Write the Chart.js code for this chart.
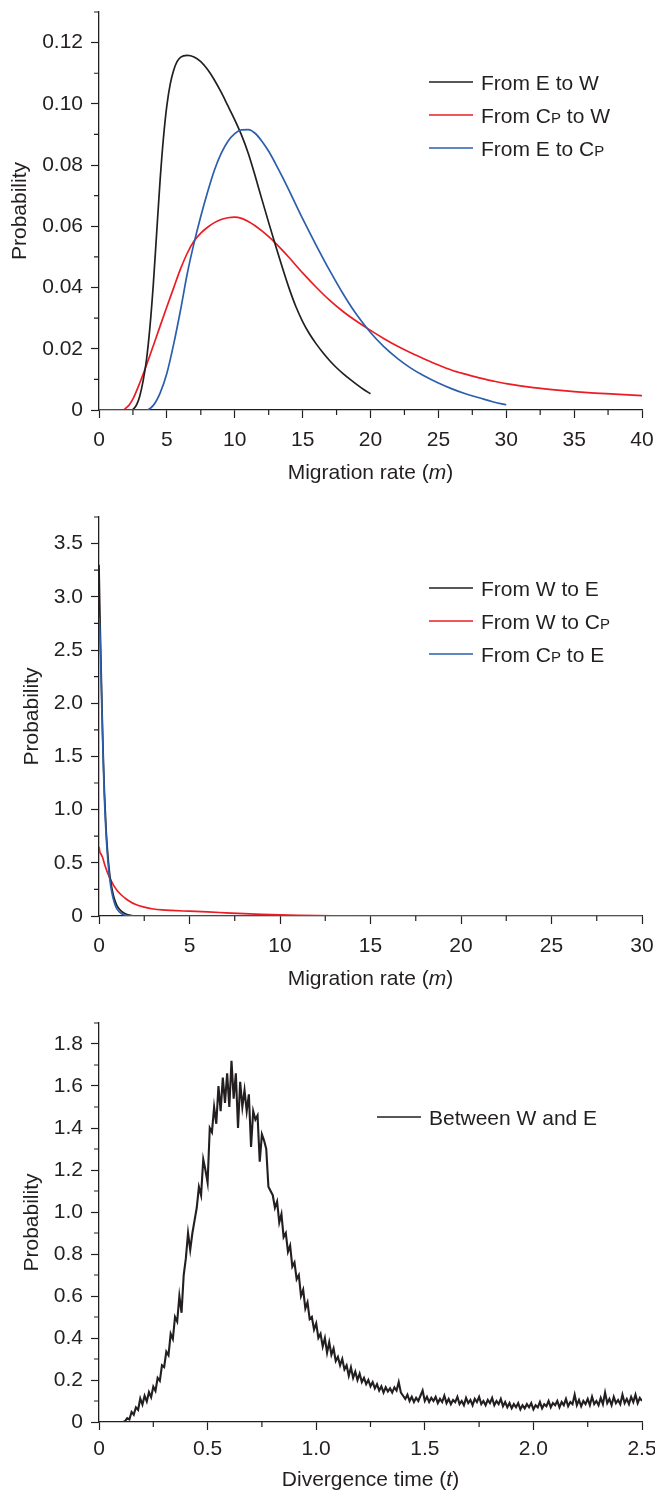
<!DOCTYPE html>
<html>
<head>
<meta charset="utf-8">
<script src="https://cdn.jsdelivr.net/npm/chart.js@4.4.1/dist/chart.umd.min.js"></script>
<style>
  html, body { margin: 0; padding: 0; background: #fff; overflow: hidden; }
  #wrap { position: relative; width: 655px; height: 1491px; }
  .panel { position: absolute; left: 0; width: 655px; }
  canvas { display: block; }
</style>
</head>
<body>
<div id="wrap">
  <div class="panel" style="top:0;height:485px"><canvas id="migA"></canvas></div>
  <div class="panel" style="top:485px;height:505px"><canvas id="migB"></canvas></div>
  <div class="panel" style="top:990px;height:501px"><canvas id="divT"></canvas></div>
</div>
<script>
// ---- panel 1: migration rate posteriors ----
const eToW_m = [0, 1, 2, 2.4, 2.6, 2.8, 3.0, 3.25, 3.5, 3.75, 4.0, 4.25, 4.5, 4.75, 5.0, 5.25, 5.5, 5.75, 6.0, 6.5, 7.0, 7.5, 8.0, 8.5, 9.0, 9.5, 10.0, 10.5, 11.0, 11.5, 12.0, 12.5, 13.0, 13.5, 14.0, 14.5, 15.0, 15.5, 16.0, 16.5, 17.0, 17.5, 18.0, 18.5, 19.0, 19.5, 20.0];
const eToW_p = [0, 0, 0, 0, 0.0006, 0.002, 0.0045, 0.0095, 0.0165, 0.027, 0.041, 0.058, 0.075, 0.089, 0.0995, 0.1065, 0.111, 0.1138, 0.1152, 0.1158, 0.1153, 0.1138, 0.1112, 0.1078, 0.1038, 0.0993, 0.0948, 0.0898, 0.0838, 0.0765, 0.0688, 0.0612, 0.0538, 0.0466, 0.0398, 0.0338, 0.0289, 0.0249, 0.0216, 0.0187, 0.0161, 0.0138, 0.0118, 0.01, 0.0083, 0.0067, 0.0053];

const cpToW_m = [0, 1, 1.8, 2.0, 2.25, 2.5, 3.0, 3.5, 4.0, 4.5, 5.0, 5.5, 6.0, 6.5, 7.0, 7.5, 8.0, 8.5, 9.0, 9.5, 10.0, 10.5, 11.0, 11.5, 12.0, 12.5, 13.0, 13.5, 14.0, 15.0, 16.0, 17.0, 18.0, 19.0, 20.0, 21.0, 22.0, 23.0, 24.0, 25.0, 26.0, 27.0, 28.0, 29.0, 30.0, 32.0, 34.0, 36.0, 38.0, 40.0];
const cpToW_p = [0, 0, 0, 0.0007, 0.0018, 0.0036, 0.0088, 0.0147, 0.021, 0.0274, 0.0337, 0.0399, 0.046, 0.0512, 0.0552, 0.0578, 0.0597, 0.0612, 0.0622, 0.0628, 0.063, 0.0626, 0.0616, 0.0602, 0.0585, 0.0566, 0.0545, 0.0522, 0.0498, 0.0448, 0.0401, 0.0358, 0.0321, 0.0289, 0.026, 0.0233, 0.0208, 0.0186, 0.0166, 0.0147, 0.013, 0.0117, 0.0105, 0.0095, 0.0086, 0.0073, 0.0064, 0.0057, 0.0052, 0.0047];

const eToCp_m = [0, 2, 3.5, 4.0, 4.5, 5.0, 5.5, 6.0, 6.5, 7.0, 7.5, 8.0, 8.5, 9.0, 9.5, 10.0, 10.5, 11.0, 11.5, 12.0, 12.5, 13.0, 13.5, 14.0, 14.5, 15.0, 16.0, 17.0, 18.0, 19.0, 20.0, 21.0, 22.0, 23.0, 24.0, 25.0, 26.0, 27.0, 28.0, 29.0, 30.0];
const eToCp_p = [0, 0, 0, 0.0015, 0.0055, 0.012, 0.0215, 0.0325, 0.0445, 0.0545, 0.0633, 0.0712, 0.0783, 0.0838, 0.0878, 0.0903, 0.0915, 0.0916, 0.0904, 0.0878, 0.0845, 0.0805, 0.0762, 0.0717, 0.0671, 0.0625, 0.0538, 0.0455, 0.0378, 0.031, 0.0253, 0.0206, 0.0168, 0.0136, 0.011, 0.0088, 0.0069, 0.0053, 0.004, 0.0027, 0.0017];

// ---- panel 2: reverse directions ----
const wToE_m = [0, 0.05, 0.1, 0.15, 0.2, 0.25, 0.3, 0.4, 0.5, 0.6, 0.7, 0.8, 0.9, 1.0, 1.2, 1.4, 1.6, 1.8, 2.0, 2.1];
const wToE_p = [3.3, 2.85, 2.45, 2.08, 1.72, 1.42, 1.16, 0.79, 0.55, 0.38, 0.27, 0.19, 0.135, 0.095, 0.05, 0.025, 0.012, 0.005, 0.001, 0];

const wToCp_m = [0, 0.05, 0.1, 0.2, 0.3, 0.4, 0.5, 0.6, 0.8, 1.0, 1.25, 1.5, 1.75, 2.0, 2.5, 3.0, 3.5, 4.0, 5.0, 6.0, 7.0, 8.0, 9.0, 10.0, 11.0, 12.0, 13.0, 14.0, 15.0, 30.0];
const wToCp_p = [0.65, 0.6, 0.585, 0.55, 0.49, 0.44, 0.395, 0.355, 0.29, 0.24, 0.195, 0.16, 0.132, 0.11, 0.083, 0.066, 0.057, 0.052, 0.045, 0.038, 0.03, 0.022, 0.015, 0.01, 0.006, 0.003, 0.0015, 0.0005, 0, 0];

const cpToE_m = [0, 0.05, 0.1, 0.15, 0.2, 0.25, 0.3, 0.4, 0.5, 0.6, 0.7, 0.8, 0.9, 1.0, 1.2, 1.4, 1.6, 1.8, 2.0, 5, 10, 15, 20, 25, 30];
const cpToE_p = [2.8, 2.68, 2.35, 2.0, 1.66, 1.36, 1.1, 0.74, 0.5, 0.34, 0.23, 0.155, 0.1, 0.065, 0.027, 0.01, 0.003, 0.001, 0, 0, 0, 0, 0, 0, 0];

// ---- panel 3: divergence time, one value every 0.01 from t = 0 ----
const divStart = 0;
const divStep = 0.01;
const divProb = [
  0, 0, 0, 0, 0, 0, 0, 0, 0, 0,
  0, 0, 0.004, 0.018, 0.012, 0.048, 0.035, 0.07, 0.058, 0.112,
  0.083, 0.125, 0.098, 0.142, 0.118, 0.168, 0.148, 0.21, 0.196, 0.27,
  0.262, 0.335, 0.318, 0.42, 0.395, 0.5, 0.478, 0.6, 0.52, 0.7,
  0.78, 0.9, 0.82, 0.9, 0.96, 1.02, 1.12, 1.08, 1.25, 1.2,
  1.14, 1.4, 1.38, 1.5, 1.42, 1.6, 1.48, 1.64, 1.52, 1.66,
  1.5, 1.72, 1.54, 1.66, 1.4, 1.62, 1.5, 1.58, 1.48, 1.56,
  1.31, 1.48, 1.44, 1.46, 1.24, 1.37, 1.34, 1.3, 1.12, 1.1,
  1.08, 1.02, 1.05, 0.95, 0.99, 0.88, 0.9, 0.81, 0.84, 0.74,
  0.76, 0.68, 0.7, 0.6, 0.63, 0.54, 0.57, 0.49, 0.5, 0.44,
  0.47, 0.4, 0.42, 0.36, 0.4, 0.33, 0.38, 0.32, 0.35, 0.29,
  0.31, 0.27, 0.3, 0.25, 0.27, 0.22, 0.26, 0.21, 0.24, 0.2,
  0.23, 0.19, 0.21, 0.18, 0.2, 0.17, 0.19, 0.16, 0.18, 0.15,
  0.17, 0.14, 0.165, 0.145, 0.16, 0.14, 0.165, 0.15, 0.19, 0.14,
  0.125, 0.11, 0.13, 0.1, 0.12, 0.095, 0.115, 0.1, 0.125, 0.15,
  0.1, 0.12, 0.095, 0.115, 0.1, 0.12, 0.09, 0.11, 0.095, 0.125,
  0.09, 0.11, 0.085, 0.105, 0.095, 0.12, 0.085, 0.1, 0.08, 0.115,
  0.09, 0.105, 0.08, 0.11, 0.095, 0.12, 0.085, 0.1, 0.08, 0.105,
  0.09, 0.115, 0.08, 0.1, 0.085, 0.11, 0.075, 0.095, 0.07, 0.09,
  0.065, 0.085, 0.07, 0.09, 0.06, 0.08, 0.065, 0.085, 0.07, 0.09,
  0.06, 0.08, 0.07, 0.095, 0.065, 0.085, 0.075, 0.1, 0.07, 0.09,
  0.08, 0.1, 0.07, 0.095, 0.08, 0.11, 0.075, 0.095, 0.085, 0.13,
  0.08, 0.105, 0.075, 0.1, 0.085, 0.11, 0.08, 0.12, 0.085, 0.1,
  0.08, 0.115, 0.085, 0.14, 0.09, 0.11, 0.08, 0.12, 0.09, 0.105,
  0.085, 0.13, 0.09, 0.11, 0.085, 0.12, 0.095, 0.13, 0.09, 0.115,
  0.1
];

const FONT = '"Liberation Sans", Arial, Helvetica, sans-serif';
const INK = '#231f20';
const BLACK = '#231f20';
const RED = '#ec1c24';
const BLUE = '#2b5fad';

function pts(xs, ys) {
  return xs.map((x, i) => ({ x: x, y: ys[i] }));
}

// short unlabelled ticks halfway between the labelled ones
const minorTicks = {
  id: 'minorTicks',
  afterDraw(chart, args, opts) {
    const { ctx, chartArea } = chart;
    const x = chart.scales.x, y = chart.scales.y;
    ctx.save();
    ctx.strokeStyle = INK;
    ctx.lineWidth = 1.2;
    ctx.beginPath();
    const nx = Math.round((x.max - x.min) / opts.x);
    for (let i = 1; i <= nx; i += 2) {
      const px = x.getPixelForValue(x.min + i * opts.x);
      ctx.moveTo(px, chartArea.bottom);
      ctx.lineTo(px, chartArea.bottom + 5);
    }
    const ny = Math.round((y.max - y.min) / opts.y);
    for (let i = 1; i <= ny; i += 2) {
      const py = y.getPixelForValue(y.min + i * opts.y);
      ctx.moveTo(chartArea.left, py);
      ctx.lineTo(chartArea.left - 5, py);
    }
    ctx.stroke();
    ctx.restore();
  }
};

// "CP" is set as C followed by a small-capital P
function drawLabel(ctx, text, x, y) {
  const bits = text.split('CP');
  let cx = x;
  bits.forEach((b, i) => {
    ctx.font = '21px ' + FONT;
    ctx.fillText(b, cx, y);
    cx += ctx.measureText(b).width;
    if (i < bits.length - 1) {
      ctx.fillText('C', cx, y);
      cx += ctx.measureText('C').width;
      ctx.font = '15px ' + FONT;
      ctx.fillText('P', cx, y);
      cx += ctx.measureText('P').width;
    }
  });
}

const lineLegend = {
  id: 'lineLegend',
  afterDraw(chart, args, opts) {
    const ctx = chart.ctx;
    ctx.save();
    ctx.fillStyle = INK;
    ctx.textAlign = 'left';
    ctx.textBaseline = 'alphabetic';
    chart.data.datasets.forEach((ds, i) => {
      const y = opts.top + i * opts.gap;
      ctx.strokeStyle = ds.borderColor;
      ctx.lineWidth = 1.7;
      ctx.beginPath();
      ctx.moveTo(opts.left, y);
      ctx.lineTo(opts.left + 44, y);
      ctx.stroke();
      drawLabel(ctx, ds.label, opts.left + 52, y + 7.5);
    });
    ctx.restore();
  }
};

// x axis title with an italic symbol
const axisTitle = {
  id: 'axisTitle',
  afterDraw(chart, args, opts) {
    const { ctx, chartArea } = chart;
    const [pre, ital, post] = opts.parts;
    const normal = '21px ' + FONT, italic = 'italic 21px ' + FONT;
    ctx.save();
    ctx.fillStyle = INK;
    ctx.textAlign = 'left';
    ctx.textBaseline = 'middle';
    ctx.font = normal;
    const w1 = ctx.measureText(pre).width, w3 = ctx.measureText(post).width;
    ctx.font = italic;
    const w2 = ctx.measureText(ital).width;
    let x = (chartArea.left + chartArea.right) / 2 - (w1 + w2 + w3) / 2;
    const y = chartArea.bottom + opts.offset;
    ctx.font = normal; ctx.fillText(pre, x, y); x += w1;
    ctx.font = italic; ctx.fillText(ital, x, y); x += w2;
    ctx.font = normal; ctx.fillText(post, x, y);
    ctx.restore();
  }
};

function makeChart(id, datasets, cfg) {
  const tickFont = { family: FONT, size: 21 };
  const axisLine = { display: true, color: INK, width: 1.3 };
  const grid = { drawOnChartArea: false, drawTicks: true, tickLength: 8, tickColor: INK, tickWidth: 1.2 };
  return new Chart(document.getElementById(id), {
    type: 'line',
    data: { datasets: datasets },
    options: {
      responsive: true,
      maintainAspectRatio: false,
      animation: false,
      layout: { padding: { top: cfg.padTop, right: 13, left: 0, bottom: 0 } },
      elements: { point: { radius: 0 } },
      plugins: {
        legend: { display: false },
        tooltip: { enabled: false },
        minorTicks: { x: cfg.xMinor, y: cfg.yMinor },
        lineLegend: cfg.legend,
        axisTitle: { parts: cfg.xTitle, offset: cfg.titleOffset }
      },
      scales: {
        x: {
          type: 'linear', min: 0, max: cfg.xMax,
          afterFit: s => { s.height = cfg.xHeight; s.paddingLeft = 0; s.paddingRight = 0; },
          grid: grid, border: axisLine,
          ticks: { stepSize: cfg.xStep, padding: cfg.xPad, font: tickFont, color: INK,
                   autoSkip: false, maxRotation: 0, includeBounds: false, callback: cfg.xFmt }
        },
        y: {
          type: 'linear', min: 0, max: cfg.yMax,
          afterFit: s => { s.width = 99; s.paddingTop = 0; s.paddingBottom = 0; },
          grid: grid, border: axisLine,
          title: { display: true, text: 'Probability', color: INK, font: tickFont,
                   padding: { top: cfg.yTitlePad, bottom: 0 } },
          ticks: { stepSize: cfg.yStep, padding: 8, font: tickFont, color: INK,
                   autoSkip: false, includeBounds: false, callback: cfg.yFmt }
        }
      }
    },
    plugins: [minorTicks, lineLegend, axisTitle]
  });
}

function line(label, color, data, order, width) {
  return { label: label, data: data, borderColor: color, borderWidth: width || 1.7,
           fill: false, cubicInterpolationMode: 'monotone', order: order };
}

const intFmt = v => String(Math.round(v));
const fix = d => v => (Math.abs(v) < 1e-9 ? '0' : Number(v).toFixed(d));

makeChart('migA', [
  line('From E to W', BLACK, pts(eToW_m, eToW_p), 1),
  line('From CP to W', RED, pts(cpToW_m, cpToW_p), 2),
  line('From E to CP', BLUE, pts(eToCp_m, eToCp_p), 0)
], {
  padTop: 12, xHeight: 75, xMax: 40, xStep: 5, xMinor: 2.5, xPad: 10, xFmt: intFmt,
  yMax: 0.13, yStep: 0.02, yMinor: 0.01, yFmt: fix(2), yTitlePad: 8,
  legend: { left: 429, top: 82, gap: 33 },
  xTitle: ['Migration rate (', 'm', ')'], titleOffset: 63
});

makeChart('migB', [
  line('From W to E', BLACK, pts(wToE_m, wToE_p), 1),
  line('From W to CP', RED, pts(wToCp_m, wToCp_p), 2),
  line('From CP to E', BLUE, pts(cpToE_m, cpToE_p), 0)
], {
  padTop: 32, xHeight: 74, xMax: 30, xStep: 5, xMinor: 2.5, xPad: 10, xFmt: intFmt,
  yMax: 3.75, yStep: 0.5, yMinor: 0.25, yFmt: fix(1), yTitlePad: 20,
  legend: { left: 429, top: 103, gap: 33 },
  xTitle: ['Migration rate (', 'm', ')'], titleOffset: 63
});

const divData = divProb.map((p, i) => ({ x: +(divStart + i * divStep).toFixed(2), y: p }));
const divLine = line('Between W and E', BLACK, divData, 0, 2.1);
divLine.cubicInterpolationMode = 'default';
divLine.tension = 0;

makeChart('divT', [divLine], {
  padTop: 33, xHeight: 69, xMax: 2.5, xStep: 0.5, xMinor: 0.25, xPad: 7, xFmt: fix(1),
  yMax: 1.9, yStep: 0.2, yMinor: 0.1, yFmt: fix(1), yTitlePad: 20,
  legend: { left: 377, top: 127, gap: 33 },
  xTitle: ['Divergence time (', 't', ')'], titleOffset: 58
});
</script>
</body>
</html>
